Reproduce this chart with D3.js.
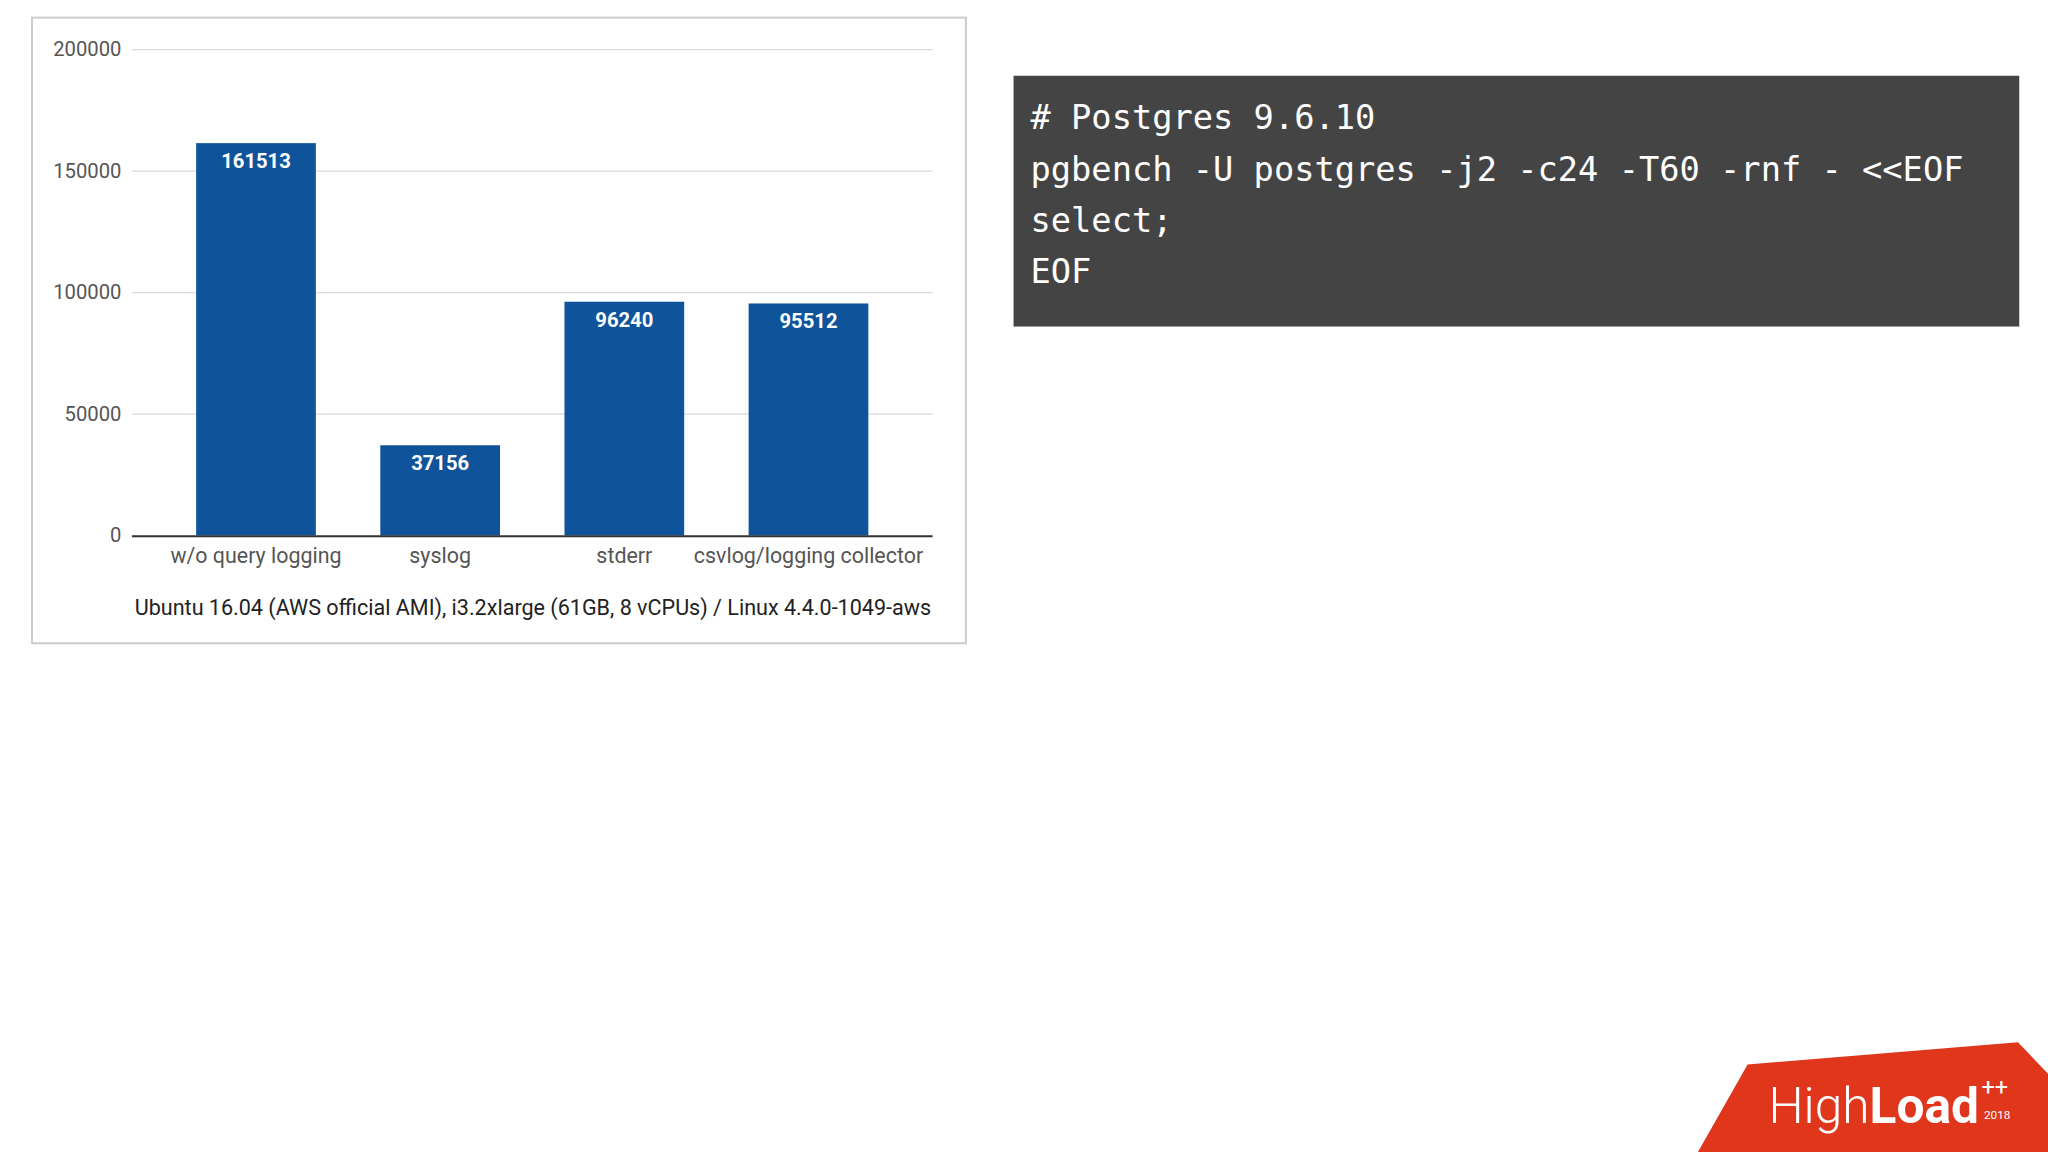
<!DOCTYPE html>
<html><head><meta charset="utf-8">
<script src="https://cdn.jsdelivr.net/npm/d3@7"></script>
<style>body{margin:0;background:#fff}</style></head>
<body><script>
const categories = ["w/o query logging","syslog","stderr","csvlog/logging collector"];
const values = [161513,37156,96240,95512];
const yTicks = [0,50000,100000,150000,200000];
const codeLines = ["# Postgres 9.6.10","pgbench -U postgres -j2 -c24 -T60 -rnf - <<EOF","select;","EOF"];
const caption = "Ubuntu 16.04 (AWS official AMI), i3.2xlarge (61GB, 8 vCPUs) / Linux 4.4.0-1049-aws";

const svg = d3.select("body").append("svg").attr("width",2048).attr("height",1152)
  .attr("viewBox","0 0 1568 882").style("display","block");
svg.append("rect").attr("x",24.5).attr("y",13.5).attr("width",715).attr("height",479)
  .attr("fill","#fff").attr("stroke","#ccc").attr("stroke-width",1.5);
const x = d3.scaleBand().domain(categories).range([125.5,689.5]).paddingInner(0.35).paddingOuter(0.175);
const y = d3.scaleLinear().domain([0,200000]).range([410,38]);
const g = svg.append("g").style("font-family","Roboto, Arial, sans-serif");
g.selectAll(".grid").data(yTicks.slice(1)).join("line").attr("x1",101).attr("x2",714)
  .attr("y1",d=>y(d)).attr("y2",d=>y(d)).attr("stroke","#d9d9d9").attr("stroke-width",1);
g.selectAll(".yl").data(yTicks).join("text").attr("x",93).attr("y",d=>y(d)+5)
  .attr("text-anchor","end").attr("font-size",15.5).attr("fill","#555").text(d=>d);
g.selectAll(".bar").data(values).join("rect").attr("x",(d,i)=>x(categories[i]))
  .attr("width",x.bandwidth()).attr("y",d=>y(d)).attr("height",d=>y(0)-y(d)).attr("fill","#0f539b");
g.selectAll(".vl").data(values).join("text").attr("x",(d,i)=>x(categories[i])+x.bandwidth()/2)
  .attr("y",d=>y(d)+19).attr("text-anchor","middle").attr("font-size",15.5).attr("font-weight","bold")
  .attr("fill","#fff").text(d=>d);
g.append("line").attr("x1",101).attr("x2",714).attr("y1",410.5).attr("y2",410.5).attr("stroke","#333").attr("stroke-width",1.5);
g.selectAll(".xl").data(categories).join("text").attr("x",d=>x(d)+x.bandwidth()/2).attr("y",431)
  .attr("text-anchor","middle").attr("font-size",16.4).attr("fill","#555").text(d=>d);
g.append("text").attr("x",408).attr("y",471).attr("text-anchor","middle").attr("font-size",16.5)
  .attr("fill","#222").text(caption);

svg.append("rect").attr("x",776).attr("y",58).attr("width",770).attr("height",192).attr("fill","#444");
svg.selectAll(".code").data(codeLines).join("text").attr("x",789).attr("y",(d,i)=>99+i*39.3)
  .attr("font-family","DejaVu Sans Mono, monospace").attr("font-size",25.8).attr("fill","#fff")
  .style("white-space","pre").text(d=>d);

svg.append("path").attr("d","M1300,882 L1338,815 L1545,798 L1568,822 L1568,882 Z").attr("fill","#e0361c");
const logo = svg.append("text").attr("x",1354).attr("y",860).attr("font-family","Roboto, Arial, sans-serif")
  .attr("font-size",38).attr("fill","#fff");
logo.append("tspan").attr("font-weight","300").text("High");
logo.append("tspan").attr("font-weight","bold").text("Load");
svg.append("text").attr("x",1517).attr("y",838).attr("font-family","Roboto, sans-serif").attr("font-size",18).attr("fill","#fff").text("++");
svg.append("text").attr("x",1519).attr("y",857).attr("font-family","Roboto, sans-serif").attr("font-size",9).attr("fill","#fff").text("2018");
</script></body></html>
